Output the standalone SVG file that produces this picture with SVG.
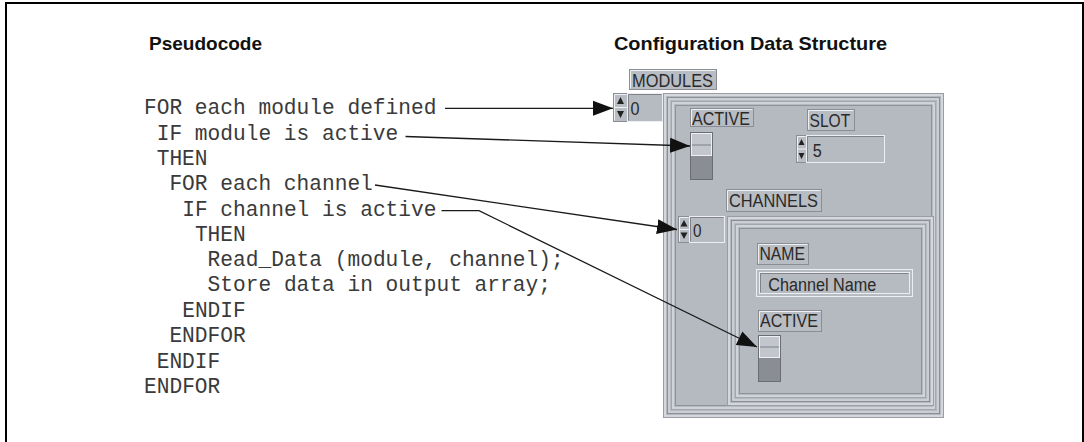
<svg xmlns="http://www.w3.org/2000/svg" width="1084" height="442" viewBox="0 0 1084 442">
<style>
.title{font-family:"Liberation Sans",Arial,sans-serif;font-weight:bold;font-size:19px;fill:#111}
.code{font-family:"Liberation Mono","Courier New",monospace;font-size:21.2px;fill:#3a3a3a}
.ui{font-family:"Liberation Sans",Arial,sans-serif;font-size:18px;fill:#2a2a2a}
.lbl{fill:#b8bcc3;stroke:#8a8e94;stroke-width:1}
.hl{fill:none;stroke:#eef0f3;stroke-width:1}
.disp{fill:#b6bac1;stroke:#eceef1;stroke-width:1}
.sh{fill:none;stroke:#80848a;stroke-width:1}
.fr{fill:none}
.conn{fill:none;stroke:#1a1a1a;stroke-width:1.3}
.sw{fill:#8a8e94;stroke:#6a6e74;stroke-width:1}
.swt{fill:#c3c6cc;stroke:#eef0f3;stroke-width:1}
</style>
<defs>
<marker id="ah" markerUnits="userSpaceOnUse" markerWidth="20" markerHeight="16" refX="20" refY="8" orient="auto">
<path d="M0,0.5 L20,8 L0,15.5 Z" fill="#111"/>
</marker>
</defs>
<rect width="1084" height="442" fill="#fff"/>
<path d="M6,442 V3 H1083 V442" fill="none" stroke="#000" stroke-width="2"/>

<g id="titles">
<text class="title" x="149" y="50" textLength="113" lengthAdjust="spacingAndGlyphs">Pseudocode</text>
<text class="title" x="614" y="50" textLength="273" lengthAdjust="spacingAndGlyphs">Configuration Data Structure</text>
</g>

<g id="pseudocode">
<text class="code" x="144" y="114">FOR each module defined</text>
<text class="code" x="156.7" y="140">IF module is active</text>
<text class="code" x="156.7" y="165">THEN</text>
<text class="code" x="169.4" y="190">FOR each channel</text>
<text class="code" x="182.2" y="216">IF channel is active</text>
<text class="code" x="194.9" y="241">THEN</text>
<text class="code" x="207.6" y="266">Read_Data (module, channel);</text>
<text class="code" x="207.6" y="291">Store data in output array;</text>
<text class="code" x="182.2" y="317">ENDIF</text>
<text class="code" x="169.4" y="342">ENDFOR</text>
<text class="code" x="156.7" y="368">ENDIF</text>
<text class="code" x="144" y="393">ENDFOR</text>
</g>

<g id="modules-cluster">
<rect x="663.5" y="93.5" width="280" height="324" fill="#b5b9c0" stroke="#9a9ea4"/>
<rect class="fr" x="665" y="95" width="277" height="321" stroke="#dfe1e5" stroke-width="1.5"/>
<rect class="fr" x="667.5" y="97.5" width="272" height="316" stroke="#8b8f95"/>
<rect class="fr" x="669" y="99" width="269" height="313" stroke="#d2d5d9" stroke-width="1.5"/>
<rect class="fr" x="671.5" y="101.5" width="264" height="308" stroke="#a3a7ad"/>
<rect class="fr" x="673" y="103" width="261" height="305" stroke="#d9dce0" stroke-width="1.5"/>
<rect class="fr" x="675.5" y="105.5" width="256" height="300" stroke="#8f9399"/>
</g>

<g id="modules-label">
<rect class="lbl" x="629.5" y="69.5" width="87" height="20"/>
<path class="hl" d="M630.5,88.5 V70.5 H715.5"/>
<text class="ui" x="632" y="86.7" font-size="20" textLength="81" lengthAdjust="spacingAndGlyphs">MODULES</text>
</g>

<g id="modules-index">
<rect class="lbl" x="613.5" y="93.5" width="14" height="28"/>
<path class="hl" d="M614.5,120.5 V94.5 H626.5"/>
<line x1="614" y1="107.5" x2="627" y2="107.5" stroke="#eef0f3"/>
<path d="M620.5,97 L617,104 H624 Z M620.5,118 L617,111 H624 Z" fill="#222"/>
<rect class="disp" x="627.5" y="93.5" width="35" height="28"/>
<path class="sh" d="M628.5,120.5 V94.5 H661.5"/>
<text class="ui" x="630.5" y="115" font-size="20" textLength="9" lengthAdjust="spacingAndGlyphs">0</text>
</g>

<g id="module-active-label">
<rect class="lbl" x="690.5" y="108.5" width="63" height="18"/>
<path class="hl" d="M691.5,125.5 V109.5 H752.5"/>
<text class="ui" x="692" y="125" font-size="18.5" textLength="58" lengthAdjust="spacingAndGlyphs">ACTIVE</text>
</g>

<g id="module-active-switch">
<rect class="sw" x="690.5" y="132.5" width="22" height="47"/>
<rect class="swt" x="691.5" y="133.5" width="20" height="22"/>
<line x1="692" y1="145" x2="711" y2="145" stroke="#7d8187"/>
</g>

<g id="slot-label">
<rect class="lbl" x="807.5" y="109.5" width="47" height="21"/>
<path class="hl" d="M808.5,129.5 V110.5 H853.5"/>
<text class="ui" x="809.5" y="126.7" font-size="19" textLength="40.7" lengthAdjust="spacingAndGlyphs">SLOT</text>
</g>

<g id="slot-value">
<rect class="lbl" x="796.5" y="135.5" width="10" height="27"/>
<path class="hl" d="M797.5,161.5 V136.5 H805.5"/>
<line x1="797" y1="149" x2="806" y2="149" stroke="#eef0f3"/>
<path d="M801.5,139 L798.5,145 H804.5 Z M801.5,159 L798.5,153 H804.5 Z" fill="#222"/>
<rect class="disp" x="806.5" y="135.5" width="78" height="27"/>
<path class="sh" d="M807.5,161.5 V136.5 H883.5"/>
<text class="ui" x="812.7" y="156.7" font-size="20" textLength="9" lengthAdjust="spacingAndGlyphs">5</text>
</g>

<g id="channels-label">
<rect class="lbl" x="726.5" y="189.5" width="95" height="22"/>
<path class="hl" d="M727.5,210.5 V190.5 H820.5"/>
<text class="ui" x="729" y="207.3" font-size="19.5" textLength="89" lengthAdjust="spacingAndGlyphs">CHANNELS</text>
</g>

<g id="channels-index">
<rect class="lbl" x="678.5" y="216.5" width="11" height="26"/>
<path class="hl" d="M679.5,241.5 V217.5 H688.5"/>
<line x1="679" y1="229.5" x2="689" y2="229.5" stroke="#eef0f3"/>
<path d="M684,220 L680.5,226.5 H687.5 Z M684,239 L680.5,232.5 H687.5 Z" fill="#222"/>
<rect class="disp" x="689.5" y="216.5" width="35" height="26"/>
<path class="sh" d="M690.5,241.5 V217.5 H723.5"/>
<text class="ui" x="693" y="237" font-size="18" textLength="8.5" lengthAdjust="spacingAndGlyphs">0</text>
</g>

<g id="channels-cluster">
<rect x="727.5" y="216.5" width="206" height="189" fill="#b5b9c0" stroke="#9a9ea4"/>
<rect class="fr" x="729" y="218" width="203" height="186" stroke="#dfe1e5" stroke-width="1.5"/>
<rect class="fr" x="731.5" y="220.5" width="198" height="181" stroke="#8b8f95"/>
<rect class="fr" x="733" y="222" width="195" height="178" stroke="#d2d5d9" stroke-width="1.5"/>
<rect class="fr" x="735.5" y="224.5" width="190" height="173" stroke="#a3a7ad"/>
<rect class="fr" x="737" y="226" width="187" height="170" stroke="#d9dce0" stroke-width="1.5"/>
<rect class="fr" x="739.5" y="228.5" width="182" height="165" stroke="#8f9399"/>
</g>

<g id="name-label">
<rect class="lbl" x="757.5" y="243.5" width="51" height="21"/>
<path class="hl" d="M758.5,263.5 V244.5 H807.5"/>
<text class="ui" x="759.5" y="260" font-size="17.5" textLength="45.5" lengthAdjust="spacingAndGlyphs">NAME</text>
</g>

<g id="name-value">
<rect class="disp" x="756.5" y="269.5" width="156" height="27"/>
<rect class="fr" x="759.5" y="272.5" width="150" height="21" stroke="#eceef1"/>
<path class="sh" d="M760.5,292.5 V273.5 H908.5"/>
<text class="ui" x="768.3" y="290.5" font-size="17.5" textLength="108" lengthAdjust="spacingAndGlyphs">Channel Name</text>
</g>

<g id="channel-active-label">
<rect class="lbl" x="758.5" y="310.5" width="63" height="21"/>
<path class="hl" d="M759.5,330.5 V311.5 H820.5"/>
<text class="ui" x="760" y="327.3" font-size="17.5" textLength="58" lengthAdjust="spacingAndGlyphs">ACTIVE</text>
</g>

<g id="channel-active-switch">
<rect class="sw" x="758.5" y="335.5" width="22" height="46"/>
<rect class="swt" x="759.5" y="336.5" width="20" height="21"/>
<line x1="760" y1="347" x2="779" y2="347" stroke="#7d8187"/>
</g>

<g id="connectors">
<path class="conn" d="M445,108.3 H613" marker-end="url(#ah)"/>
<path class="conn" d="M405.5,136.5 L690,146" marker-end="url(#ah)"/>
<path class="conn" d="M375,185 L677,229.5" marker-end="url(#ah)"/>
<path class="conn" d="M441.5,210.7 H479 L757,347" marker-end="url(#ah)"/>
</g>
</svg>
